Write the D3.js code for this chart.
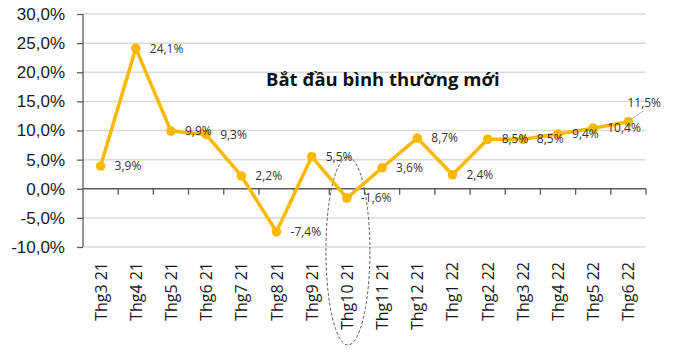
<!DOCTYPE html>
<html>
<head>
<meta charset="utf-8">
<script src="https://cdn.jsdelivr.net/npm/d3@7"></script>
<style>
  body { margin: 0; background: #fff; }
  svg { display: block; font-family: "Open Sans", sans-serif; }
  .y-axis text { font-size: 17px; fill: #1a1a1a; }
  .y-axis path, .y-axis line { stroke: #595959; stroke-width: 1.3; }
</style>
</head>
<body>
<svg id="chart" width="674" height="353"></svg>
<script>
// Data
const months = ["Thg3 21", "Thg4 21", "Thg5 21", "Thg6 21", "Thg7 21", "Thg8 21", "Thg9 21", "Thg10 21",
  "Thg11 21", "Thg12 21", "Thg1 22", "Thg2 22", "Thg3 22", "Thg4 22", "Thg5 22", "Thg6 22"];
const values = [3.9, 24.1, 9.9, 9.3, 2.2, -7.4, 5.5, -1.6, 3.6, 8.7, 2.4, 8.5, 8.5, 9.4, 10.4, 11.5];
const yTicks = [-10, -5, 0, 5, 10, 15, 20, 25, 30];
const title = "Bắt đầu bình thường mới";
const highlightMonth = "Thg10 21";

// Config
const W = 674, H = 353;
const MARGIN = { top: 14, right: 28, bottom: 106, left: 83 };
const innerW = W - MARGIN.left - MARGIN.right;
const innerH = H - MARGIN.top - MARGIN.bottom;
const LINE_COLOR = "#FBB800";

const fmt = (v) => v.toFixed(1).replace(".", ",") + "%";

const svg = d3.select("#chart");
const g = svg.append("g").attr("transform", `translate(${MARGIN.left},${MARGIN.top})`);

const x = d3.scaleBand().domain(months).range([0, innerW]).padding(0);
const y = d3.scaleLinear().domain([-10, 30]).range([innerH, 0]);
const cx = (m) => x(m) + x.bandwidth() / 2;

// Grid
g.append("g")
  .selectAll("line")
  .data(yTicks.filter((t) => t !== 0))
  .join("line")
  .attr("x1", 0)
  .attr("x2", innerW)
  .attr("y1", (d) => y(d))
  .attr("y2", (d) => y(d))
  .attr("stroke", "#d9d9d9")
  .attr("stroke-width", 1.5);

// Y axis
g.append("g")
  .attr("class", "y-axis")
  .call(d3.axisLeft(y).tickValues(yTicks).tickSize(6).tickPadding(12).tickFormat(fmt))
  .call((a) => a.select(".domain").attr("d", `M0,${y(30)}V${y(-10)}`));

// X axis at zero
const x0 = y(0);
g.append("line")
  .attr("x1", 0).attr("x2", innerW)
  .attr("y1", x0).attr("y2", x0)
  .attr("stroke", "#595959").attr("stroke-width", 1.3);
g.append("g")
  .selectAll("line")
  .data(months)
  .join("line")
  .attr("x1", (d) => x(d) + x.bandwidth())
  .attr("x2", (d) => x(d) + x.bandwidth())
  .attr("y1", x0)
  .attr("y2", x0 + 6)
  .attr("stroke", "#595959").attr("stroke-width", 1.3);

// Category labels (below plot)
g.append("g")
  .selectAll("text")
  .data(months)
  .join("text")
  .attr("transform", (d) => `translate(${cx(d) + 6},${innerH + 15}) rotate(-90)`)
  .attr("text-anchor", "end")
  .attr("font-size", 16)
  .attr("fill", "#1a1a1a")
  .text((d) => d);

// Highlight ellipse
const ellTop = y(5.4), ellBottom = innerH + 98;
g.append("ellipse")
  .attr("cx", cx(highlightMonth) + 1)
  .attr("cy", (ellTop + ellBottom) / 2)
  .attr("rx", 22)
  .attr("ry", (ellBottom - ellTop) / 2)
  .attr("fill", "none")
  .attr("stroke", "#555")
  .attr("stroke-width", 1)
  .attr("stroke-dasharray", "3,2");

// Line
const pts = months.map((m, i) => ({ m, v: values[i] }));
g.append("path")
  .datum(pts)
  .attr("fill", "none")
  .attr("stroke", LINE_COLOR)
  .attr("stroke-width", 3.5)
  .attr("stroke-linejoin", "round")
  .attr("d", d3.line().x((d) => cx(d.m)).y((d) => y(d.v)));

g.append("g")
  .selectAll("circle")
  .data(pts)
  .join("circle")
  .attr("cx", (d) => cx(d.m))
  .attr("cy", (d) => y(d.v))
  .attr("r", 4.8)
  .attr("fill", LINE_COLOR);

// Value labels
const last = pts.length - 1;
g.append("g")
  .selectAll("text")
  .data(pts)
  .join("text")
  .attr("x", (d, i) => cx(d.m) + (i === last ? -1 : 14))
  .attr("y", (d, i) => y(d.v) + (i === last ? -19 : 0))
  .attr("dy", "0.35em")
  .attr("font-size", 12)
  .attr("fill", "#333")
  .text((d) => fmt(d.v));

// Callout for last label
const lp = pts[last];
g.append("line")
  .attr("x1", cx(lp.m) + 15).attr("y1", y(lp.v) - 11)
  .attr("x2", cx(lp.m) + 2).attr("y2", y(lp.v) - 2)
  .attr("stroke", "#999").attr("stroke-width", 0.8);

// Title
svg.append("text")
  .attr("x", 266)
  .attr("y", 86)
  .attr("font-size", 18.5)
  .attr("font-weight", "bold")
  .attr("fill", "#111")
  .text(title);
</script>
</body>
</html>
